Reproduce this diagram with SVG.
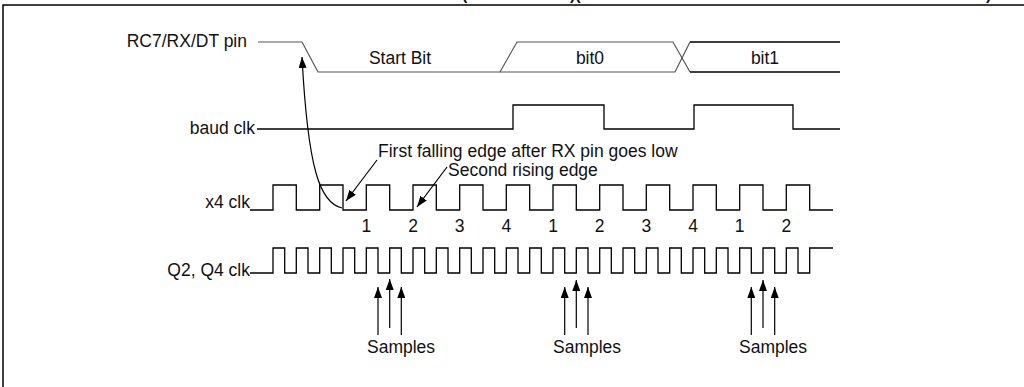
<svg xmlns="http://www.w3.org/2000/svg" width="1024" height="387" viewBox="0 0 1024 387">
<style>
text{font-family:"Liberation Sans",Arial,sans-serif;font-size:17.5px;fill:#111}
.lbl{text-anchor:end}
.num{text-anchor:middle}
.sig{fill:none;stroke:#000;stroke-width:1.3}
.pin{fill:none;stroke:#555;stroke-width:1.2}
.arr{fill:none;stroke:#000;stroke-width:1.2}
.ttl{font-weight:bold;font-size:16px}
</style>
<defs>
<marker id="ah" markerUnits="userSpaceOnUse" markerWidth="12" markerHeight="8" refX="11" refY="4" orient="auto">
<path d="M0,0 L11,4 L0,8 Z" fill="#000"/>
</marker>
</defs>
<rect width="1024" height="387" fill="#fff"/>
<g id="frame" fill="none" stroke="#000" stroke-width="1.5">
<path d="M3,387 V5 H1024"/>
</g>
<g id="title">
<text class="ttl" x="462" y="-0.5">(</text>
<text class="ttl" x="570" y="-0.5">)(</text>
<text class="ttl" x="986" y="-0.5">)</text>
</g>
<g id="rx-pin">
<text class="lbl" x="247" y="47">RC7/RX/DT pin</text>
<path class="pin" d="M258,42 H302 L318,72 H500 L517,42 H673 L690,72"/>
<path class="pin" d="M500,72 H675 L690,42"/>
<path class="sig" d="M690,42 H840 M690,72 H840"/>
<text class="num" x="400" y="64">Start Bit</text>
<text class="num" x="590" y="64">bit0</text>
<text class="num" x="765" y="64">bit1</text>
</g>
<g id="baud-clk">
<text class="lbl" x="255" y="134">baud clk</text>
<path class="sig" d="M257,129 H513 V105 H604 V129 H694 V105 H793 V129 H840"/>
</g>
<g id="x4-clk">
<text class="lbl" x="250" y="208">x4 clk</text>
<path class="sig" d="M250,210 H273 V185 H296.3 V210 H319.7 V185 H343 V210 H366.3 V185 H389.7 V210 H413 V185 H436.3 V210 H459.7 V185 H483 V210 H506.3 V185 H529.7 V210 H553 V185 H576.3 V210 H599.7 V185 H623 V210 H646.3 V185 H669.7 V210 H693 V185 H716.3 V210 H739.7 V185 H763 V210 H786.3 V185 H809.7 V210 H833"/>
<text class="num" x="366.3" y="232">1</text>
<text class="num" x="413" y="232">2</text>
<text class="num" x="459.7" y="232">3</text>
<text class="num" x="506.3" y="232">4</text>
<text class="num" x="553" y="232">1</text>
<text class="num" x="599.7" y="232">2</text>
<text class="num" x="646.3" y="232">3</text>
<text class="num" x="693" y="232">4</text>
<text class="num" x="739.7" y="232">1</text>
<text class="num" x="786.3" y="232">2</text>
</g>
<g id="q-clk">
<text class="lbl" x="250" y="276">Q2, Q4 clk</text>
<path class="sig" d="M250,273 H273 V248 H284.7 V273 H296.3 V248 H308 V273 H319.7 V248 H331.3 V273 H343 V248 H354.7 V273 H366.3 V248 H378 V273 H389.7 V248 H401.3 V273 H413 V248 H424.7 V273 H436.3 V248 H448 V273 H459.7 V248 H471.3 V273 H483 V248 H494.7 V273 H506.3 V248 H518 V273 H529.7 V248 H541.3 V273 H553 V248 H564.7 V273 H576.3 V248 H588 V273 H599.7 V248 H611.3 V273 H623 V248 H634.7 V273 H646.3 V248 H658 V273 H669.7 V248 H681.3 V273 H693 V248 H704.7 V273 H716.3 V248 H728 V273 H739.7 V248 H751.3 V273 H763 V248 H774.7 V273 H786.3 V248 H798 V273 H809.7 V248 H833"/>
</g>
<g id="annotations">
<text x="378" y="157">First falling edge after RX pin goes low</text>
<text x="448" y="176">Second rising edge</text>
<text x="367" y="353">Samples</text>
<text x="553" y="353">Samples</text>
<text x="739" y="353">Samples</text>
</g>
<g id="connectors">
<path class="arr" d="M342,208 C320,203 308,170 302,57" marker-end="url(#ah)"/>
<path class="arr" d="M377,160 L346,201" marker-end="url(#ah)"/>
<path class="arr" d="M447,167 L417,207" marker-end="url(#ah)"/>
<path class="arr" d="M378,335 V287" marker-end="url(#ah)"/>
<path class="arr" d="M389.7,328 V279" marker-end="url(#ah)"/>
<path class="arr" d="M401.3,335 V287" marker-end="url(#ah)"/>
<path class="arr" d="M564.7,335 V287" marker-end="url(#ah)"/>
<path class="arr" d="M576.3,328 V280" marker-end="url(#ah)"/>
<path class="arr" d="M588,335 V287" marker-end="url(#ah)"/>
<path class="arr" d="M751.3,335 V287" marker-end="url(#ah)"/>
<path class="arr" d="M763,328 V280" marker-end="url(#ah)"/>
<path class="arr" d="M774.7,335 V287" marker-end="url(#ah)"/>
</g>
</svg>
